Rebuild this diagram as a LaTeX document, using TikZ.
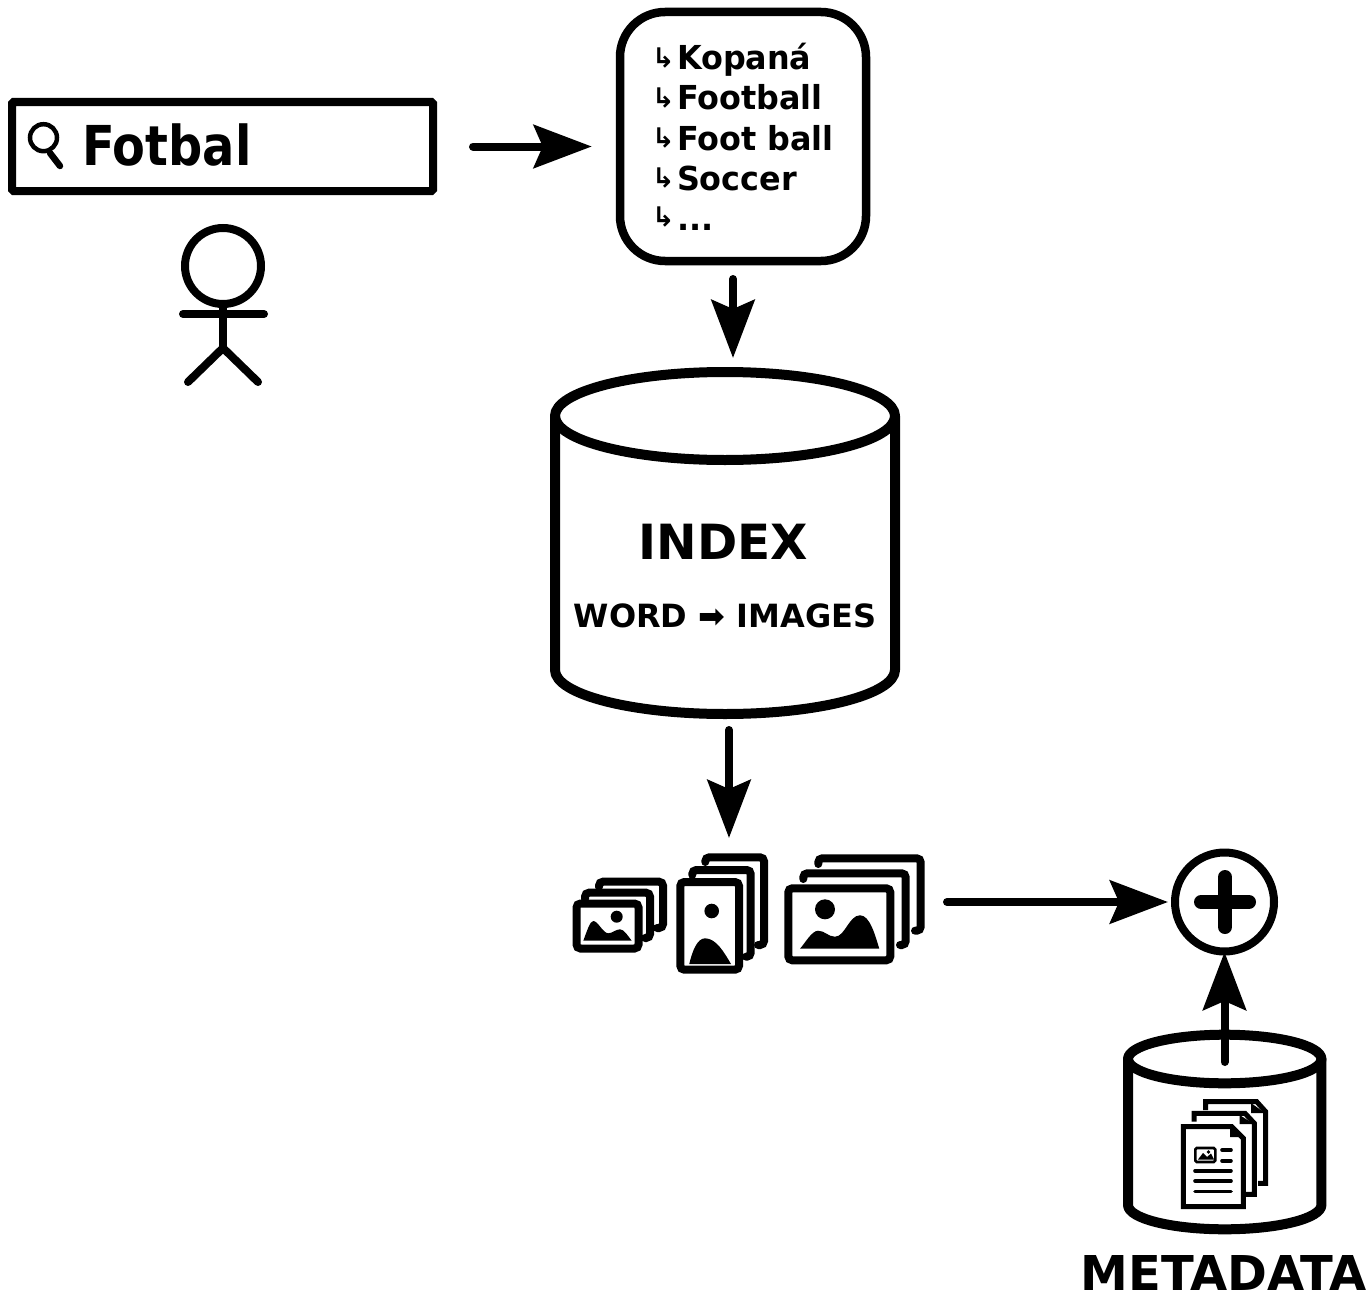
\documentclass[tikz,border=0pt]{standalone}
\usepackage{graphicx}
\usepackage{fontspec}
\setmainfont{DejaVu Sans}
\usetikzlibrary{arrows.meta}
\newcommand{\fs}[1]{\fontsize{#1}{#1}\selectfont}
\tikzset{
  x=1pt,y=-1pt,
  ink/.style={line width=#1,draw=black,line join=round,line cap=round},
  ink/.default=8pt,
  label/.style={inner sep=0pt,outer sep=0pt,text=black,font=\bfseries},
  listitem/.style={label,anchor=base west,font=\bfseries\fs{33}},
  hook/.style={inner sep=0pt,outer sep=0pt,anchor=base west,font=\bfseries\fs{27}},
  ghost/.style={inner sep=0pt,outer sep=0pt,draw=none},
  conn/.style={line width=8pt,line cap=round,-{Stealth[length=#1,width=43pt,inset=9pt]}},
  conn/.default=58pt,
  frame/.style={line width=8pt,draw=black,rounded corners=4pt,line cap=round},
  page/.style={line width=5pt,draw=black,line join=miter,line cap=butt},
  txtline/.style={line width=3.6pt,draw=black,line cap=round}
}
\begin{document}
\begin{tikzpicture}
\useasboundingbox (0,0) rectangle (1369,1298);
\fill[white] (0,0) rectangle (1369,1298);

% search box
\node[draw=black,line width=8pt,minimum width=421pt,minimum height=89pt,inner sep=0pt,rounded corners=1.5pt] (search) at (222.5,146.5) {};
\draw[line width=4.5pt] (43.5,137.7) circle [radius=13.5pt];
\draw[line width=6.5pt,line cap=round] (50,153) -- (60,166);
\node[label,anchor=base west,font=\bfseries\fs{55}] (fotbal) at (82,165) {\scalebox{0.87}[1]{Fotbal}};

% person
\node[draw=black,line width=8pt,circle,minimum size=76pt,inner sep=0pt] (head) at (223,266) {};
\coordinate (shl) at (183,314);
\coordinate (shr) at (264,314);
\coordinate (hip) at (223,348);
\coordinate (legl) at (188,382);
\coordinate (legr) at (258,382);
\draw[ink] (shl) -- (shr);
\draw[ink] (head.south) -- (hip);
\draw[ink] (legl) -- (hip) -- (legr);

% synonym list
\node[draw=black,line width=8.5pt,rounded corners=45pt,minimum width=246pt,minimum height=249pt,inner sep=0pt] (list) at (743,136.5) {};
\node[hook] (h1) at (652,68) {↳};
\node[hook] (h2) at (652,107) {↳};
\node[hook] (h3) at (652,147) {↳};
\node[hook] (h4) at (652,187) {↳};
\node[hook] (h5) at (652,226) {↳};
\node[listitem] (t1) at (677,70) {\scalebox{0.965}[1]{Kopaná}};
\node[listitem] (t2) at (677,110) {\scalebox{0.965}[1]{Football}};
\node[listitem] (t3) at (677,150) {\scalebox{0.965}[1]{Foot ball}};
\node[listitem] (t4) at (677,190) {\scalebox{0.965}[1]{Soccer}};
\node[listitem] (t5) at (677,230) {\scalebox{0.965}[1]{...}};

% index cylinder
\node[ghost,minimum width=340pt,minimum height=342pt] (index) at (725,543) {};
\draw[ink=10pt] (725,416) ellipse [x radius=170pt,y radius=44pt];
\draw[ink=10pt] (555,416) -- (555,670) arc [start angle=180,end angle=360,x radius=170pt,y radius=44pt] -- (895,416);
\node[label,font=\bfseries\fs{48.5}] (idx) at (723.5,542) {INDEX};
\node[label,anchor=base,font=\bfseries\fs{32}] (wi) at (725,627.5) {WORD ➡ IMAGES};

% image stacks
\node[ghost,minimum width=350pt,minimum height=118pt] (images) at (749,913) {};
% small
\draw[frame] (576.5,903.5) rectangle (638.5,948.5);
\draw[frame] (585,899) |- (650,892.7) -- (650,938) -- (645,938);
\draw[frame] (599,887) |- (663,881.7) -- (663,928) -- (657,928);
\fill (616.7,916.7) circle [radius=6pt];
\fill (583.3,940.7) .. controls (587,931) and (590,921) .. (593.3,921) .. controls (598,921) and (603,933.3) .. (608.3,933.3) .. controls (612,933.3) and (616,929.3) .. (620,929.3) .. controls (624,929.3) and (628,936) .. (631.7,940.7) -- cycle;
% medium
\draw[frame] (680.3,882) rectangle (739,969.7);
\draw[frame] (692.3,875) |- (750.7,870) -- (750.7,956.7) -- (746,956.7);
\draw[frame] (705.3,862) |- (764,857.3) -- (764,945) -- (758,945);
\fill (711.7,911) circle [radius=7.3pt];
\fill (689.3,964) .. controls (692,952) and (697,938.3) .. (705,938.3) .. controls (716,938.3) and (724,952) .. (731,964) -- cycle;
% large
\draw[frame] (788.3,888.3) rectangle (890.3,960.3);
\draw[frame] (803.3,879) |- (905.7,873.3) -- (905.7,945) -- (900,945);
\draw[frame] (818.3,864) |- (920.7,858.3) -- (920.7,930.7) -- (915,930.7);
\fill (825,909.3) circle [radius=10pt];
\fill (800,948.7) .. controls (805,943) and (812,930.7) .. (818,930.7) .. controls (825,930.7) and (828,936.7) .. (835,936.7) .. controls (845,936.7) and (849,915.3) .. (860,915.3) .. controls (870,915.3) and (875,935) .. (879.3,948.7) -- cycle;

% plus
\node[draw=black,line width=8pt,circle,minimum size=99pt,inner sep=0pt] (plus) at (1224.5,902) {};
\coordinate (pl) at (1201,902);
\coordinate (pr) at (1249,902);
\coordinate (pt) at (1225,877);
\coordinate (pb) at (1225,927);
\draw[line width=14pt,line cap=round] (pl) -- (pr);
\draw[line width=14pt,line cap=round] (pt) -- (pb);

% metadata cylinder
\node[ghost,minimum width=194pt,minimum height=194pt] (meta) at (1224.7,1132) {};
\draw[ink=10pt] (1224.7,1059) ellipse [x radius=96.7pt,y radius=24.3pt];
\draw[ink=10pt] (1128,1059) -- (1128,1205) arc [start angle=180,end angle=360,x radius=96.7pt,y radius=24.3pt] -- (1321.4,1059);
\node[label,anchor=base,font=\bfseries\fs{48}] (mt) at (1224,1290) {METADATA};

% documents
\draw[page] (1205.7,1110) -- (1205.7,1101.7) -- (1256.7,1101.7) -- (1265.7,1111.7) -- (1265.7,1183.3) -- (1258,1183.3);
\draw[page] (1194,1121.7) -- (1194,1113.3) -- (1245,1113.3) -- (1254.3,1123.3) -- (1254.3,1194.3) -- (1246,1194.3);
\fill (1251,1103) -- (1251,1113) -- (1265,1113) -- cycle;
\fill (1239.5,1115) -- (1239.5,1124) -- (1254,1124) -- cycle;
\draw[page,fill=white] (1183.3,1126.7) -- (1231.7,1126.7) -- (1243.3,1138.3) -- (1243.3,1206.7) -- (1183.3,1206.7) -- cycle;
\fill (1230,1127) -- (1230,1137) -- (1243,1137) -- cycle;
\draw[line width=2.6pt,rounded corners=1.5pt] (1195.3,1148) rectangle (1215.3,1162);
\fill (1198,1159.5) -- (1203,1153) -- (1207,1157) -- (1211,1153.5) -- (1214,1159.5) -- cycle;
\fill (1208.5,1152) circle [radius=1.8pt];
\draw[txtline] (1222,1150) -- (1231,1150);
\draw[txtline] (1222,1160.7) -- (1231,1160.7);
\draw[txtline] (1195,1170.7) -- (1231,1170.7);
\draw[txtline] (1195,1181) -- (1231,1181);
\draw[txtline] (1195,1191.3) -- (1231,1191.3);

% connectors
\coordinate (a2s) at (733,279);
\coordinate (a2e) at (733,358);
\coordinate (a3s) at (729,730);
\coordinate (a3e) at (729,838);
\coordinate (a4s) at (947,902);
\coordinate (a4e) at (1168,902);
\coordinate (a5s) at (1224.5,1062);
\coordinate (a5e) at (1224.5,952);
\draw[conn,shorten <=36pt,shorten >=24pt] (search.east) -- (search.east -| list.west);
\draw[conn] (a2s) -- (a2e);
\draw[conn] (a3s) -- (a3e);
\draw[conn] (a4s) -- (a4e);
\draw[conn] (a5s) -- (a5e);
\end{tikzpicture}
\end{document}
